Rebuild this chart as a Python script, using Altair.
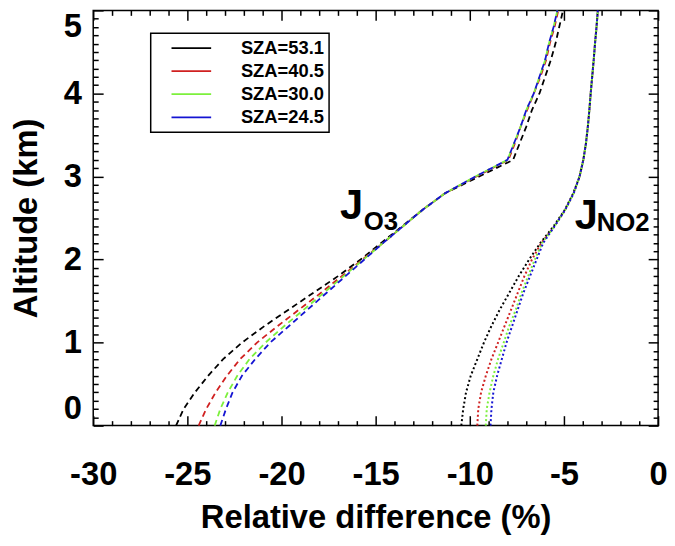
import altair as alt
import pandas as pd

# ---------------- data ----------------
altitude_km = [0, 0.2, 0.4, 0.6, 0.8, 1.0, 1.2, 1.4, 1.6, 1.8, 2.0, 2.2, 2.4,
               2.6, 2.8, 3.0, 3.2, 3.4, 3.6, 3.8, 4.0, 4.2, 4.4, 4.6, 4.8, 5.0]

sza_labels = ["SZA=53.1", "SZA=40.5", "SZA=30.0", "SZA=24.5"]
sza_colors = ["#000000", "#d02020", "#7cf03c", "#1414d2"]

# J_O3 relative difference (%) - dashed
jo3_531 = [-25.6, -25.2, -24.6, -23.9, -23.1, -22.1, -20.9, -19.6, -18.3, -17.0,
           -15.8, -14.7, -13.6, -12.5, -11.3, -9.5, -7.7, -7.35, -7.0, -6.7,
           -6.3, -6.0, -5.7, -5.45, -5.25, -5.05]
jo3_405 = [-24.4, -24.0, -23.5, -22.9, -22.2, -21.3, -20.2, -19.05, -17.9, -16.8,
           -15.7, -14.6, -13.55, -12.5, -11.3, -9.65, -7.95, -7.6, -7.3, -6.95,
           -6.6, -6.25, -5.95, -5.75, -5.5, -5.3]
jo3_300 = [-23.55, -23.25, -22.85, -22.35, -21.7, -20.85, -19.85, -18.8, -17.75, -16.7,
           -15.65, -14.6, -13.55, -12.5, -11.3, -9.7, -8.0, -7.65, -7.3, -7.0,
           -6.6, -6.3, -6.0, -5.8, -5.55, -5.35]
jo3_245 = [-23.25, -22.95, -22.6, -22.1, -21.4, -20.6, -19.6, -18.6, -17.6, -16.6,
           -15.6, -14.6, -13.55, -12.5, -11.3, -9.7, -8.0, -7.65, -7.3, -7.0,
           -6.6, -6.3, -6.0, -5.8, -5.55, -5.35]

# J_NO2 relative difference (%) - dotted
jno2_531 = [-10.45, -10.35, -10.2, -9.95, -9.6, -9.25, -8.85, -8.4, -7.9, -7.4,
            -6.85, -6.25, -5.55, -4.95, -4.5, -4.17, -3.97, -3.83, -3.73, -3.65,
            -3.58, -3.5, -3.42, -3.35, -3.27, -3.2]
jno2_405 = [-9.6, -9.55, -9.4, -9.15, -8.85, -8.5, -8.15, -7.8, -7.45, -7.1,
            -6.7, -6.2, -5.5, -4.93, -4.48, -4.17, -3.97, -3.83, -3.73, -3.65,
            -3.58, -3.5, -3.42, -3.35, -3.27, -3.2]
jno2_300 = [-9.15, -9.1, -8.95, -8.75, -8.5, -8.2, -7.9, -7.55, -7.25, -6.9,
            -6.55, -6.15, -5.5, -4.93, -4.48, -4.17, -3.97, -3.83, -3.73, -3.65,
            -3.58, -3.5, -3.42, -3.35, -3.27, -3.2]
jno2_245 = [-8.9, -8.85, -8.75, -8.55, -8.3, -8.05, -7.75, -7.45, -7.15, -6.8,
            -6.45, -6.1, -5.5, -4.93, -4.48, -4.17, -3.97, -3.83, -3.73, -3.65,
            -3.58, -3.5, -3.42, -3.35, -3.27, -3.2]

# annotations
j_text = ["J", "J"]
j_x = [-16.9, -4.42]
j_y = [2.49, 2.37]
sub_text = ["O3", "NO2"]
sub_x = [-15.63, -3.26]
sub_y = [2.35, 2.34]

# ticks
x_major = [-30, -25, -20, -15, -10, -5, 0]
x_minor = [v for v in range(-29, 0) if v % 5 != 0]
y_major = [0, 1, 2, 3, 4, 5]
y_minor = [round(i * 0.1, 1) for i in range(1, 50) if i % 10 != 0]

# ---------------- tables ----------------
def profile_table(series):
    rows = []
    for lab, xs in zip(sza_labels, series):
        for a, v in zip(altitude_km, xs):
            rows.append({"sza": lab, "alt": a, "diff": v})
    return pd.DataFrame(rows)

df_o3 = profile_table([jo3_531, jo3_405, jo3_300, jo3_245])
df_no2 = profile_table([jno2_531, jno2_405, jno2_300, jno2_245])
df_j = pd.DataFrame({"x": j_x, "y": j_y, "t": j_text})
df_sub = pd.DataFrame({"x": sub_x, "y": sub_y, "t": sub_text})

FONT = "Liberation Sans, Arial, Helvetica, sans-serif"

x_scale = alt.Scale(domain=[-30, 0], nice=False, zero=False)
y_scale = alt.Scale(domain=[0, 5], nice=False, zero=False)
color_scale = alt.Scale(domain=sza_labels, range=sza_colors)

tick_common = dict(domain=False, grid=False, ticks=True, tickColor="black",
                   tickWidth=1.5, tickOpacity=1, zindex=2)

ax_bottom_major = alt.Axis(orient="bottom", values=x_major, tickSize=10, offset=-10,
                           labelFontSize=33, labelFontWeight="bold", labelFlush=False,
                           labelPadding=33, labelExpr="'' + datum.value",
                           title="Relative difference (%)", titleFontSize=33,
                           titleFontWeight="bold", titleBaseline="alphabetic", titleY=113,
                           **tick_common)
ax_bottom_minor = alt.Axis(orient="bottom", values=x_minor, tickSize=5, offset=-5,
                           labels=False, title=None, **tick_common)
ax_top_major = alt.Axis(orient="top", values=x_major, tickSize=10, offset=-10,
                        labels=False, title=None, **tick_common)
ax_top_minor = alt.Axis(orient="top", values=x_minor, tickSize=5, offset=-5,
                        labels=False, title=None, **tick_common)

ax_left_major = alt.Axis(orient="left", values=y_major, tickSize=10, offset=-10,
                         labelFontSize=33, labelFontWeight="bold",
                         labelPadding=12, labelFlush=True, labelExpr="'' + datum.value",
                         title="Altitude (km)", titleFontSize=33, titleFontWeight="bold",
                         titleAngle=270, titleBaseline="alphabetic", titleAlign="center",
                         titleX=-67, titleY=209.5, **tick_common)
ax_left_minor = alt.Axis(orient="left", values=y_minor, tickSize=5, offset=-5,
                         labels=False, title=None, **tick_common)
ax_right_major = alt.Axis(orient="right", values=y_major, tickSize=10, offset=-10,
                          labels=False, title=None, **tick_common)
ax_right_minor = alt.Axis(orient="right", values=y_minor, tickSize=5, offset=-5,
                          labels=False, title=None, **tick_common)

legend_def = alt.Legend(title=None, orient="none", legendX=58, legendY=23,
                        direction="vertical", symbolType="stroke", symbolSize=1600,
                        symbolStrokeWidth=1.8, symbolDash=[1, 0], symbolOffset=15,
                        clipHeight=20, rowPadding=3.3, padding=5, labelOffset=29,
                        labelFont=FONT, labelFontSize=18.5, labelFontWeight="bold",
                        labelColor="black", strokeColor="black", fillColor="white")

o3 = alt.Chart(df_o3).mark_line(strokeDash=[6, 4], strokeWidth=1.8).encode(
    x=alt.X("diff:Q", scale=x_scale, axis=ax_bottom_major),
    y=alt.Y("alt:Q", scale=y_scale, axis=ax_left_major),
    color=alt.Color("sza:N", scale=color_scale, sort=sza_labels, legend=legend_def),
    order=alt.Order("alt:Q"),
)

no2 = alt.Chart(df_no2).mark_line(strokeDash=[2, 2.5], strokeWidth=2).encode(
    x=alt.X("diff:Q", scale=x_scale, axis=ax_bottom_minor),
    y=alt.Y("alt:Q", scale=y_scale, axis=ax_left_minor),
    color=alt.Color("sza:N", scale=color_scale, sort=sza_labels, legend=legend_def),
    order=alt.Order("alt:Q"),
)

jlab = alt.Chart(df_j).mark_text(align="left", baseline="alphabetic", font=FONT,
                                 fontSize=42, fontWeight="bold", color="black").encode(
    x=alt.X("x:Q", scale=x_scale, axis=ax_top_major),
    y=alt.Y("y:Q", scale=y_scale, axis=ax_right_major),
    text="t:N",
)

sublab = alt.Chart(df_sub).mark_text(align="left", baseline="alphabetic", font=FONT,
                                     fontSize=26, fontWeight="bold", color="black").encode(
    x=alt.X("x:Q", scale=x_scale, axis=ax_top_minor),
    y=alt.Y("y:Q", scale=y_scale, axis=ax_right_minor),
    text="t:N",
)

chart = (
    alt.layer(o3, no2, jlab, sublab)
    .resolve_axis(x="independent", y="independent")
    .properties(width=570, height=419,
                padding={"left": 86, "top": 0, "right": 9, "bottom": 111},
                autosize=alt.AutoSizeParams(type="none"))
    .configure_view(stroke="black", strokeWidth=1.5)
    .configure_axis(tickColor="black", tickWidth=1.5, labelColor="black",
                    titleColor="black", labelFont=FONT, titleFont=FONT)
    .configure_legend(strokeWidth=1.5, labelFont=FONT, labelFontSize=18.5,
                      labelFontWeight="bold", labelColor="black")
)

chart.save("out.html", embed_options={"renderer": "svg", "actions": False})
